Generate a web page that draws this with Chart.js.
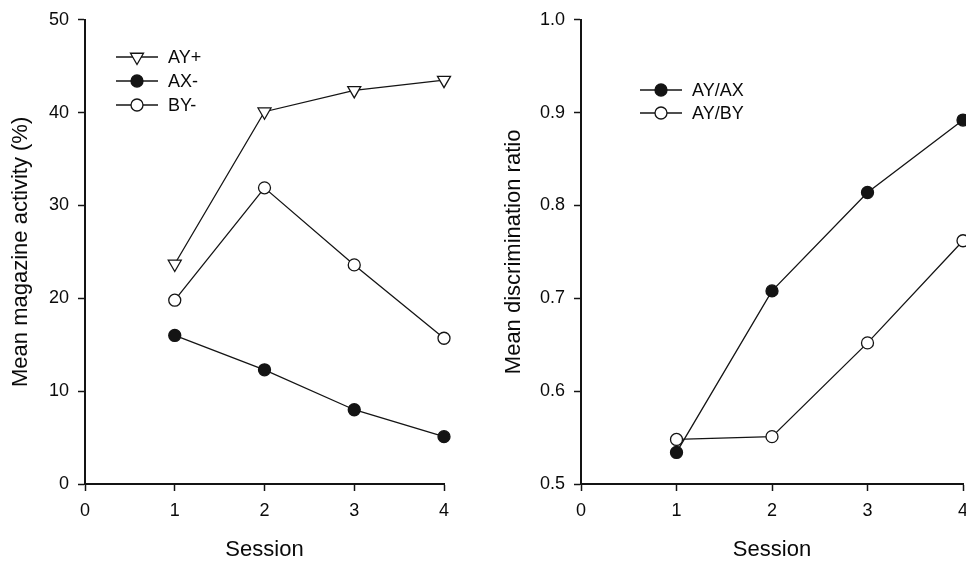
<!DOCTYPE html>
<html lang="en">
<head>
  <meta charset="UTF-8">
  <title>Magazine activity and discrimination ratio</title>
  <script src="https://cdn.jsdelivr.net/npm/chart.js@4.4.1/dist/chart.umd.min.js"></script>
  <style>
    html, body { margin: 0; padding: 0; background: #fff; overflow: hidden; width: 966px; height: 563px; }
    #left { position: absolute; left: 0; top: 0; }
    #right { position: absolute; left: 490px; top: 0; }
  </style>
</head>
<body>
  <canvas id="left" width="490" height="563"></canvas>
  <canvas id="right" width="520" height="563"></canvas>
  <script>

const sessions = [1, 2, 3, 4];
const xTicks = [0, 1, 2, 3, 4];

// left panel, magazine activity (%)
const ayPlus  = [23.7, 40.1, 42.4, 43.5];
const axMinus = [16.0, 12.3, 8.0, 5.1];
const byMinus = [19.8, 31.9, 23.6, 15.7];

// right panel, discrimination ratio
const ayAx = [0.534, 0.708, 0.814, 0.892];
const ayBy = [0.548, 0.551, 0.652, 0.762];

const ink = '#141414';
const textInk = '#0a0a0a';
const fontFamily = '"Liberation Sans", Arial, sans-serif';

function pts(ys) {
  return sessions.map((s, i) => ({ x: s, y: ys[i] }));
}

function series(label, ys, style) {
  const filled = style === 'filled';
  return {
    label: label,
    data: pts(ys),
    clip: false,
    borderColor: ink,
    borderWidth: 1.3,
    pointStyle: style === 'triDown' ? 'triangle' : 'circle',
    pointRotation: style === 'triDown' ? 180 : 0,
    pointRadius: style === 'triDown' ? 7.5 : 6,
    pointBorderWidth: 1.3,
    pointBorderColor: ink,
    pointBackgroundColor: filled ? ink : '#fff',
    markerKind: style
  };
}

function drawMarker(ctx, kind, x, y) {
  ctx.save();
  ctx.lineWidth = 1.3;
  ctx.strokeStyle = ink;
  ctx.fillStyle = kind === 'filled' ? ink : '#fff';
  ctx.beginPath();
  if (kind === 'triDown') {
    const r = 7.5;
    ctx.moveTo(x, y + r);
    ctx.lineTo(x - r * Math.sin(Math.PI / 3), y - r / 2);
    ctx.lineTo(x + r * Math.sin(Math.PI / 3), y - r / 2);
    ctx.closePath();
  } else {
    ctx.arc(x, y, 6, 0, Math.PI * 2);
  }
  ctx.fill();
  ctx.stroke();
  ctx.restore();
}

// legend drawn inside the plot: short line with the marker in the middle
const insideLegend = {
  id: 'insideLegend',
  afterDraw(chart, args, opts) {
    const ctx = chart.ctx;
    chart.data.datasets.forEach((ds, i) => {
      const y = opts.y + i * opts.gap;
      ctx.save();
      ctx.strokeStyle = ink;
      ctx.lineWidth = 1.3;
      ctx.beginPath();
      ctx.moveTo(opts.x, y);
      ctx.lineTo(opts.x + 42, y);
      ctx.stroke();
      ctx.restore();
      drawMarker(ctx, ds.markerKind, opts.x + 21, y);
      ctx.save();
      ctx.fillStyle = textInk;
      ctx.font = '18px ' + fontFamily;
      ctx.textBaseline = 'middle';
      ctx.fillText(ds.label, opts.x + 52, y + 1);
      ctx.restore();
    });
  }
};

function makeOptions(yMin, yMax, yStep, yTitle, yWidth, titlePad, legendPos, decimals) {
  return {
    responsive: false,
    animation: false,
    layout: { padding: { top: 14, right: legendPos.right, bottom: 0, left: 0 } },
    plugins: {
      legend: { display: false },
      tooltip: { enabled: false },
      insideLegend: legendPos
    },
    scales: {
      x: {
        type: 'linear',
        min: 0, max: 4,
        afterBuildTicks: (axis) => { axis.ticks = xTicks.map(v => ({ value: v })); },
        afterFit: (axis) => { axis.height = 79; },
        border: { color: ink, width: 2 },
        grid: { drawOnChartArea: false, color: ink, tickLength: 7, tickWidth: 1.5 },
        ticks: { color: textInk, padding: 9, font: { family: fontFamily, size: 18 } },
        title: { display: true, text: 'Session', color: textInk, padding: { top: 0, bottom: 0 },
                 font: { family: fontFamily, size: 22 } }
      },
      y: {
        min: yMin, max: yMax,
        afterFit: (axis) => { axis.width = yWidth; },
        border: { color: ink, width: 2 },
        grid: { drawOnChartArea: false, color: ink, tickLength: 7, tickWidth: 1.5 },
        ticks: { stepSize: yStep, color: textInk, padding: 9,
                 callback: (v) => v.toFixed(decimals),
                 font: { family: fontFamily, size: 18 } },
        title: { display: true, text: yTitle, color: textInk, padding: { top: titlePad, bottom: 0 },
                 font: { family: fontFamily, size: 22 } }
      }
    }
  };
}

new Chart(document.getElementById('left'), {
  type: 'line',
  data: {
    datasets: [
      series('AY+', ayPlus, 'triDown'),
      series('AX-', axMinus, 'filled'),
      series('BY-', byMinus, 'open')
    ]
  },
  options: makeOptions(0, 50, 10, 'Mean magazine activity (%)', 85, 8,
                       { x: 116, y: 57, gap: 24, right: 46 }, 0),
  plugins: [insideLegend]
});

new Chart(document.getElementById('right'), {
  type: 'line',
  data: {
    datasets: [
      series('AY/AX', ayAx, 'filled'),
      series('AY/BY', ayBy, 'open')
    ]
  },
  options: makeOptions(0.5, 1.0, 0.1, 'Mean discrimination ratio', 91, 11,
                       { x: 150, y: 90, gap: 23, right: 47 }, 1),
  plugins: [insideLegend]
});
  </script>
</body>
</html>
